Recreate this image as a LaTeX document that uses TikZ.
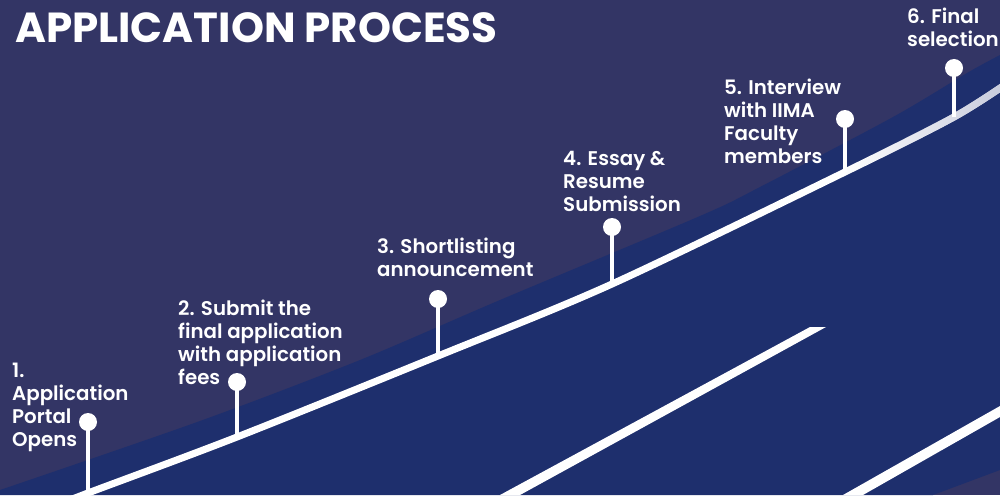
\documentclass[tikz,border=0pt]{standalone}
\usepackage{fontspec}
\setmainfont{Poppins}
\newfontfamily\semib{Poppins SemiBold}
\usetikzlibrary{fadings}
\definecolor{bgdark}{RGB}{51,53,101}
\definecolor{bandblue}{RGB}{30,47,109}
\definecolor{curvegray}{RGB}{196,200,218}
\begin{document}
\begin{tikzpicture}[x=1pt,y=-1pt,
  lbl/.style={anchor=base west,align=left,text=white,font=\semib\fontsize{19.8}{23}\selectfont,inner sep=0pt},
  dot/.style={circle,fill=white,minimum size=18pt,inner sep=0pt},
  stem/.style={draw=white,line width=3.5pt},
  road/.style={draw=white,line width=7pt}]
\fill[bgdark] (0,0) rectangle (1000,495);
\useasboundingbox (0,0) rectangle (1000,495);
% blue band
\fill[bandblue] plot[smooth,tension=0.5] coordinates {(0,490) (200,421) (360,360) (500,300) (700,216) (760,187) (893,117) (967,73) (1000,55)}
  -- (1000,470) -- (933,495) -- (0,495) -- cycle;
% straight lines
\fill[white] (500,495) -- (810,327) -- (826,327) -- (520,495) -- cycle;
\fill[white] (843,495) -- (1000,406) -- (1000,417) -- (863,495) -- cycle;
% main curve
\coordinate (c1) at (88,493);
\coordinate (c2) at (237,437);
\coordinate (c3) at (438,356);
\coordinate (c4) at (612,284);
\coordinate (c5) at (845,172);
\coordinate (c6) at (954,117);
\coordinate (cs) at (55,506);
\coordinate (ce) at (1012,80);
\path[road] plot[smooth,tension=0.5] coordinates {(cs) (c1) (c2) (c3) (c4) (c5) (c6) (ce)};
\path[draw=curvegray,line width=7pt,path fading=west] plot[smooth,tension=0.5] coordinates {(c5) (c6) (ce)};
% dots and stems
\node[dot] (d1) at (88,422) {};
\node[dot] (d2) at (237,382) {};
\node[dot] (d3) at (438,299) {};
\node[dot] (d4) at (612,227) {};
\node[dot] (d5) at (845,119) {};
\node[dot] (d6) at (954,68) {};
\foreach \i in {1,...,6} \draw[stem] (d\i.center) -- (c\i);
% title
\node[anchor=base west,inner sep=0pt,text=white,font=\bfseries\fontsize{42}{42}\selectfont] (title) at (15,43) {APPLICATION PROCESS};
% labels (anchored at the baseline of their last line)
\node[lbl] (t1) at (12,446) {1.\\Application\\Portal\\Opens};
\node[lbl] (t2) at (178,384) {2. Submit the\\final application\\with application\\fees};
\node[lbl] (t3) at (377,276) {3. Shortlisting\\announcement};
\node[lbl] (t4) at (563,211) {4. Essay \&\\Resume\\Submission};
\node[lbl] (t5) at (724,163) {5. Interview\\with IIMA\\Faculty\\members};
\node[lbl] (t6) at (907,47) {6. Final\\selection};
\end{tikzpicture}
\end{document}
